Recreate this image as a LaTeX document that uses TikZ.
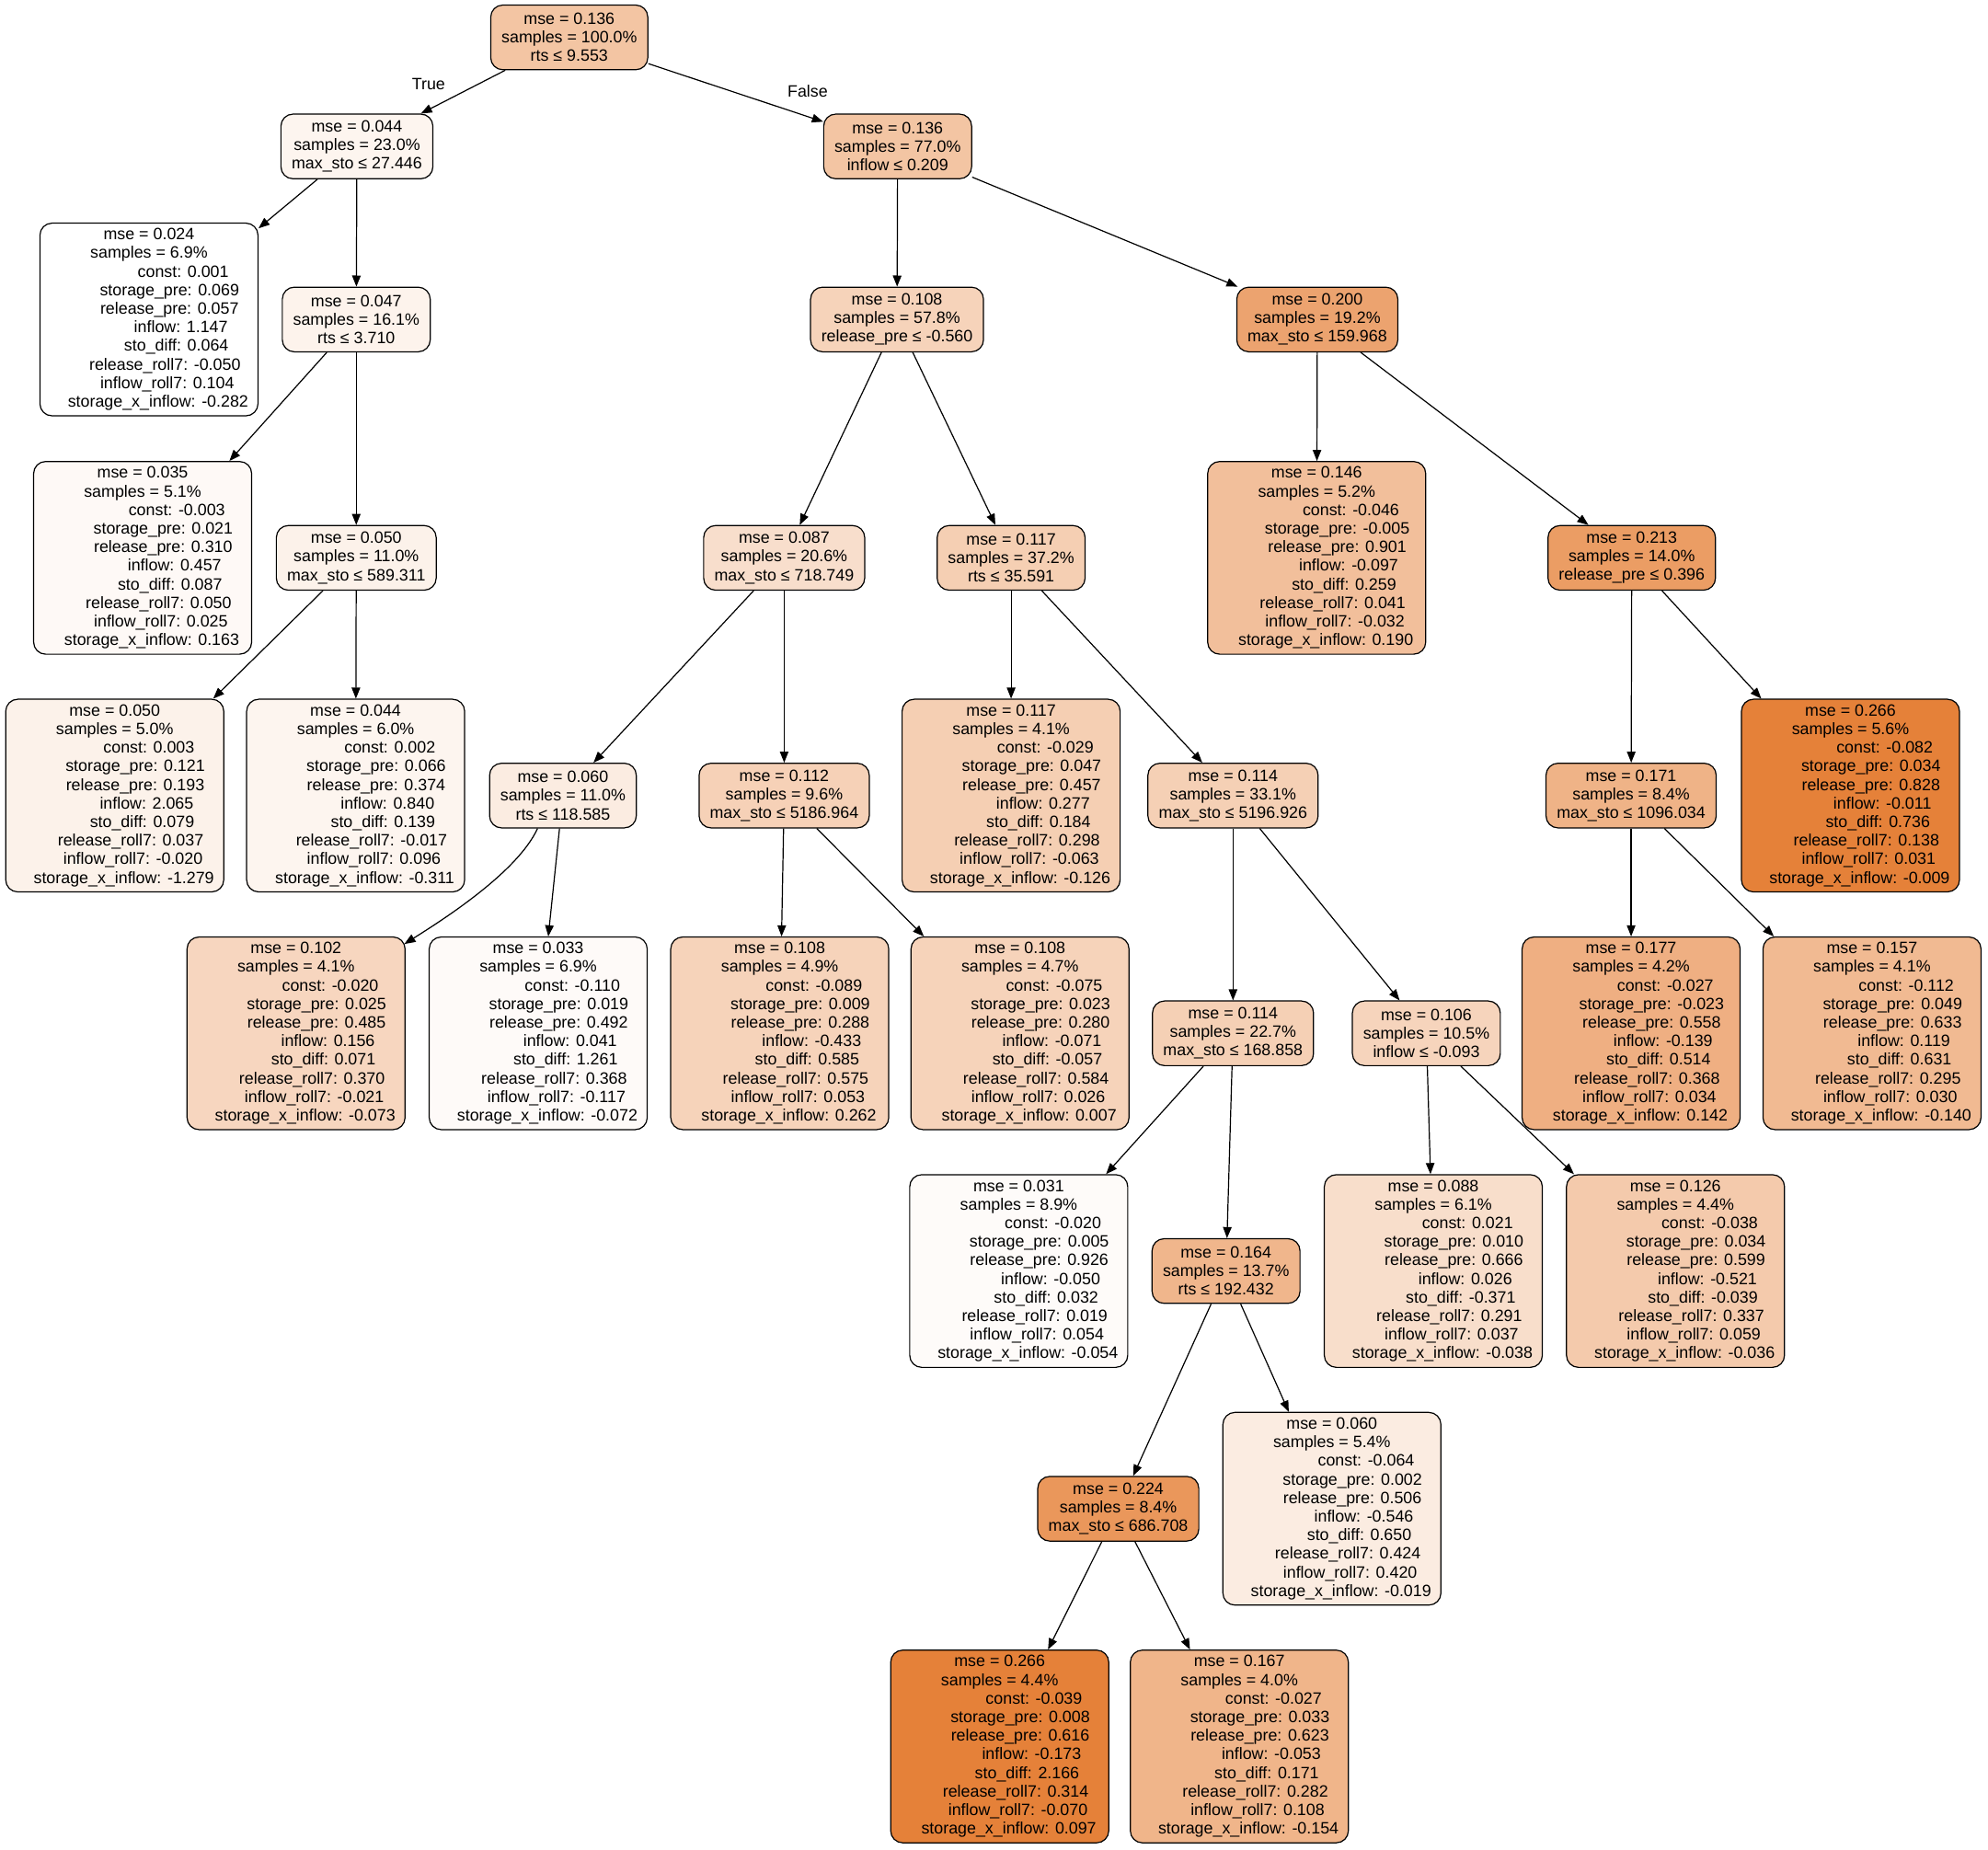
\documentclass[tikz,border=0pt]{standalone}
\usepackage{fontspec}
\setmainfont{Liberation Sans}
\usetikzlibrary{arrows.meta}
\definecolor{treeorange}{HTML}{E58139}
% leading spaces as the tree export pads them
\newcommand\pd[1]{\hspace*{#1\fontdimen2\font}}
\newcommand\leafhead[2]{mse = #1\\samples = #2\%}
\newcommand\coefs[8]{\pd{15}const: #1\\\pd{9}storage\_pre: #2\\\pd{9}release\_pre: #3\\\pd{14}inflow: #4\\\pd{12}sto\_diff: #5\\\pd{7}release\_roll7: #6\\\pd{8}inflow\_roll7: #7\\\pd{4}storage\_x\_inflow: #8}
\tikzset{
  treebox/.style={draw=black,line width=0.5pt,rounded corners=0.19cm,align=center,
    font=\fontsize{7.37}{8.34}\selectfont,inner ysep=0pt},
  splitnode/.style={treebox,inner xsep=0.17cm,minimum height=1.02cm},
  leafnode/.style={treebox,minimum width=3.44cm,minimum height=3.04cm},
  tone/.style={fill=treeorange!#1!white},
  edgelabel/.style={font=\fontsize{7.37}{8.34}\selectfont,inner sep=0pt}
}
\begin{document}
\begin{tikzpicture}[>={Triangle[length=1.75mm,width=1.35mm]},x=0.02cm,y=-0.02cm,line width=0.5pt]
		\path[use as bounding box,fill=white] (0,0) rectangle (1568,1459);
		% depth 0 and 1
		\node[splitnode,tone=46.3] (n0) at (449,29.5) {mse = 0.136\\samples = 100.0\%\\rts ≤ 9.553};
		\node[splitnode,tone=8.3] (n1) at (281.5,115.5) {mse = 0.044\\samples = 23.0\%\\max\_sto ≤ 27.446};
		\node[splitnode,tone=46.3] (n2) at (708,115.5) {mse = 0.136\\samples = 77.0\%\\inflow ≤ 0.209};
		\node[edgelabel] (lbltrue) at (338,66) {True};
		\node[edgelabel] (lblfalse) at (637,72) {False};
		% depth 2
		\node[leafnode,tone=0] (la) at (117.5,252) {\leafhead{0.024}{6.9}\\\coefs{0.001}{0.069}{0.057}{1.147}{0.064}{-0.050}{0.104}{-0.282}};
		\node[splitnode,tone=9.5] (n3) at (281,252) {mse = 0.047\\samples = 16.1\%\\rts ≤ 3.710};
		\node[splitnode,tone=34.7] (n4) at (707.5,252) {mse = 0.108\\samples = 57.8\%\\release\_pre ≤ -0.560};
		\node[splitnode,tone=72.7] (n5) at (1039,252) {mse = 0.200\\samples = 19.2\%\\max\_sto ≤ 159.968};
		% depth 3
		\node[leafnode,tone=4.5] (lb) at (112.5,440) {\leafhead{0.035}{5.1}\\\coefs{-0.003}{0.021}{0.310}{0.457}{0.087}{0.050}{0.025}{0.163}};
		\node[splitnode,tone=10.7] (n6) at (281,440) {mse = 0.050\\samples = 11.0\%\\max\_sto ≤ 589.311};
		\node[splitnode,tone=26.0] (n7) at (618.5,440) {mse = 0.087\\samples = 20.6\%\\max\_sto ≤ 718.749};
		\node[splitnode,tone=38.4] (n8) at (797.5,440) {mse = 0.117\\samples = 37.2\%\\rts ≤ 35.591};
		\node[leafnode,tone=50.4] (lc) at (1038.5,440) {\leafhead{0.146}{5.2}\\\coefs{-0.046}{-0.005}{0.901}{-0.097}{0.259}{0.041}{-0.032}{0.190}};
		\node[splitnode,tone=78.1] (n9) at (1287,440) {mse = 0.213\\samples = 14.0\%\\release\_pre ≤ 0.396};
		% depth 4
		\node[leafnode,tone=10.7] (ld) at (90.5,627.5) {\leafhead{0.050}{5.0}\\\coefs{0.003}{0.121}{0.193}{2.065}{0.079}{0.037}{-0.020}{-1.279}};
		\node[leafnode,tone=8.3] (le) at (280.5,627.5) {\leafhead{0.044}{6.0}\\\coefs{0.002}{0.066}{0.374}{0.840}{0.139}{-0.017}{0.096}{-0.311}};
		\node[splitnode,tone=14.9] (n10) at (444,627.5) {mse = 0.060\\samples = 11.0\%\\rts ≤ 118.585};
		\node[splitnode,tone=36.4] (n11) at (618.5,627.5) {mse = 0.112\\samples = 9.6\%\\max\_sto ≤ 5186.964};
		\node[leafnode,tone=38.4] (lf) at (797.5,627.5) {\leafhead{0.117}{4.1}\\\coefs{-0.029}{0.047}{0.457}{0.277}{0.184}{0.298}{-0.063}{-0.126}};
		\node[splitnode,tone=37.2] (n12) at (972.5,627.5) {mse = 0.114\\samples = 33.1\%\\max\_sto ≤ 5196.926};
		\node[splitnode,tone=60.7] (n13) at (1286.5,627.5) {mse = 0.171\\samples = 8.4\%\\max\_sto ≤ 1096.034};
		\node[leafnode,tone=100] (lg) at (1459.5,627.5) {\leafhead{0.266}{5.6}\\\coefs{-0.082}{0.034}{0.828}{-0.011}{0.736}{0.138}{0.031}{-0.009}};
		% depth 5
		\node[leafnode,tone=32.2] (lh) at (233.5,815) {\leafhead{0.102}{4.1}\\\coefs{-0.020}{0.025}{0.485}{0.156}{0.071}{0.370}{-0.021}{-0.073}};
		\node[leafnode,tone=3.7] (li) at (424.5,815) {\leafhead{0.033}{6.9}\\\coefs{-0.110}{0.019}{0.492}{0.041}{1.261}{0.368}{-0.117}{-0.072}};
		\node[leafnode,tone=34.7] (lj) at (615,815) {\leafhead{0.108}{4.9}\\\coefs{-0.089}{0.009}{0.288}{-0.433}{0.585}{0.575}{0.053}{0.262}};
		\node[leafnode,tone=34.7] (lk) at (804.5,815) {\leafhead{0.108}{4.7}\\\coefs{-0.075}{0.023}{0.280}{-0.071}{-0.057}{0.584}{0.026}{0.007}};
		\node[splitnode,tone=37.2] (n14) at (972.5,815) {mse = 0.114\\samples = 22.7\%\\max\_sto ≤ 168.858};
		\node[splitnode,tone=33.9] (n15) at (1125,815) {mse = 0.106\\samples = 10.5\%\\inflow ≤ -0.093};
		\node[leafnode,tone=63.2] (ll) at (1286.5,815) {\leafhead{0.177}{4.2}\\\coefs{-0.027}{-0.023}{0.558}{-0.139}{0.514}{0.368}{0.034}{0.142}};
		\node[leafnode,tone=55.0] (lm) at (1476.5,815) {\leafhead{0.157}{4.1}\\\coefs{-0.112}{0.049}{0.633}{0.119}{0.631}{0.295}{0.030}{-0.140}};
		% depth 6
		\node[leafnode,tone=2.9] (ln) at (803.5,1002.5) {\leafhead{0.031}{8.9}\\\coefs{-0.020}{0.005}{0.926}{-0.050}{0.032}{0.019}{0.054}{-0.054}};
		\node[splitnode,tone=57.9] (n16) at (967,1002.5) {mse = 0.164\\samples = 13.7\%\\rts ≤ 192.432};
		\node[leafnode,tone=26.4] (lo) at (1130.5,1002.5) {\leafhead{0.088}{6.1}\\\coefs{0.021}{0.010}{0.666}{0.026}{-0.371}{0.291}{0.037}{-0.038}};
		\node[leafnode,tone=42.1] (lp) at (1321.5,1002.5) {\leafhead{0.126}{4.4}\\\coefs{-0.038}{0.034}{0.599}{-0.521}{-0.039}{0.337}{0.059}{-0.036}};
		% depth 7 and 8
		\node[splitnode,tone=82.6] (n17) at (882,1190) {mse = 0.224\\samples = 8.4\%\\max\_sto ≤ 686.708};
		\node[leafnode,tone=14.9] (lq) at (1050.5,1190) {\leafhead{0.060}{5.4}\\\coefs{-0.064}{0.002}{0.506}{-0.546}{0.650}{0.424}{0.420}{-0.019}};
		\node[leafnode,tone=100] (lr) at (788.5,1377.5) {\leafhead{0.266}{4.4}\\\coefs{-0.039}{0.008}{0.616}{-0.173}{2.166}{0.314}{-0.070}{0.097}};
		\node[leafnode,tone=59.1] (ls) at (977.5,1377.5) {\leafhead{0.167}{4.0}\\\coefs{-0.027}{0.033}{0.623}{-0.053}{0.171}{0.282}{0.108}{-0.154}};
		% edges
		\draw[->] (n0) -- (n1);
		\draw[->] (n0) -- (n2);
		\draw[->] (n1) -- (la);
		\draw[->] (n1) -- (n3);
		\draw[->] (n3) -- (lb);
		\draw[->] (n3) -- (n6);
		\draw[->] (n6) -- (ld);
		\draw[->] (n6) -- (le);
		\draw[->] (n2) -- (n4);
		\draw[->] (n2) -- (n5);
		\draw[->] (n4) -- (n7);
		\draw[->] (n4) -- (n8);
		\draw[->] (n7) -- (n10);
		\draw[->] (n7) -- (n11);
		\draw[->] ([xshift=-0.4cm]n10.south) .. controls (408,688) and (350,725) .. ([xshift=-0.02cm,yshift=-0.12cm]lh.north east);
		\draw[->] (n10) -- (li);
		\draw[->] (n11) -- (lj);
		\draw[->] (n11) -- (lk);
		\draw[->] (n8) -- (lf);
		\draw[->] (n8) -- (n12);
		\draw[->] (n12) -- (n14);
		\draw[->] (n12) -- (n15);
		\draw[->] (n14) -- (ln);
		\draw[->] (n14) -- (n16);
		\draw[->] (n16) -- (n17);
		\draw[->] (n16) -- (lq);
		\draw[->] (n17) -- (lr);
		\draw[->] (n17) -- (ls);
		\draw[->] (n15) -- (lo);
		\draw[->] (n15) -- (lp);
		\draw[->] (n5) -- (lc);
		\draw[->] (n5) -- (n9);
		\draw[->] (n9) -- (n13);
		\draw[->] (n9) -- (lg);
		\draw[->] (n13) -- (ll);
		\draw[->] (n13) -- (lm);
\end{tikzpicture}
\end{document}
